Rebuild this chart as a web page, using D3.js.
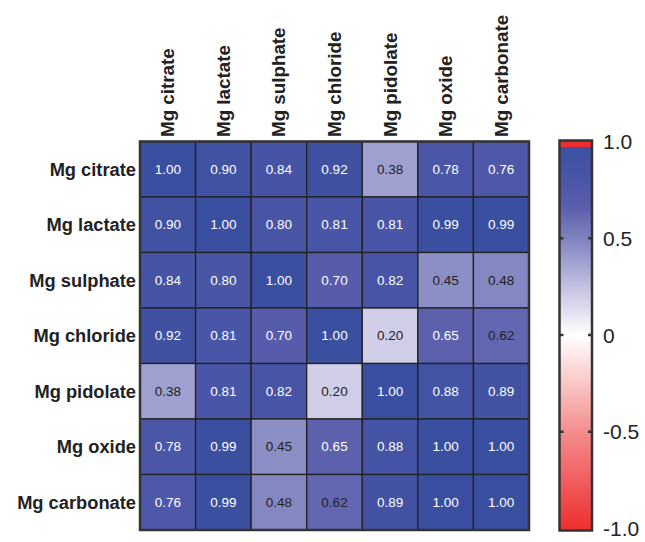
<!DOCTYPE html>
<html>
<head>
<meta charset="utf-8">
<script src="https://cdn.jsdelivr.net/npm/d3@7"></script>
<style>
  html, body { margin: 0; padding: 0; background: #fff; }
  svg { display: block; font-family: "Liberation Sans", Arial, sans-serif; }
</style>
</head>
<body>
<svg id="chart" width="645" height="542"></svg>
<script>
const labels = ["Mg citrate", "Mg lactate", "Mg sulphate", "Mg chloride", "Mg pidolate", "Mg oxide", "Mg carbonate"];
const matrix = [
  [1.00, 0.90, 0.84, 0.92, 0.38, 0.78, 0.76],
  [0.90, 1.00, 0.80, 0.81, 0.81, 0.99, 0.99],
  [0.84, 0.80, 1.00, 0.70, 0.82, 0.45, 0.48],
  [0.92, 0.81, 0.70, 1.00, 0.20, 0.65, 0.62],
  [0.38, 0.81, 0.82, 0.20, 1.00, 0.88, 0.89],
  [0.78, 0.99, 0.45, 0.65, 0.88, 1.00, 1.00],
  [0.76, 0.99, 0.48, 0.62, 0.89, 1.00, 1.00]
];
const colorTicks = [1.0, 0.5, 0, -0.5, -1.0];
const colorTickLabels = ["1.0", "0.5", "0", "-0.5", "-1.0"];

const svg = d3.select("#chart");

const grid = { x0: 140, x1: 529, y0: 141.5, y1: 530 };
const x = d3.scaleBand().domain(labels).range([grid.x0, grid.x1]);
const y = d3.scaleBand().domain(labels).range([grid.y0, grid.y1]);

const color = d3.scaleLinear()
  .domain([-1, -0.5, 0, 0.2, 0.38, 0.47, 0.65, 0.8, 1])
  .range(["#ee2e2e", "#f48b8b", "#ffffff", "#cfcee6", "#9fa0d0", "#8789c3", "#5c60ad", "#4a55a6", "#3a4fa0"])
  .clamp(true);

const cells = [];
matrix.forEach((row, i) => row.forEach((v, j) => cells.push({ r: labels[i], c: labels[j], v })));

const g = svg.append("g");
g.selectAll("rect.cell").data(cells).enter().append("rect")
  .attr("class", "cell")
  .attr("x", d => x(d.c))
  .attr("y", d => y(d.r))
  .attr("width", x.bandwidth())
  .attr("height", y.bandwidth())
  .attr("fill", d => color(d.v))
  .attr("stroke", "#222")
  .attr("stroke-width", 1.3);

g.selectAll("text.val").data(cells).enter().append("text")
  .attr("class", "val")
  .attr("x", d => x(d.c) + x.bandwidth() / 2)
  .attr("y", d => y(d.r) + y.bandwidth() / 2)
  .attr("text-anchor", "middle")
  .attr("dominant-baseline", "central")
  .attr("font-size", 13.5)
  .attr("fill", d => d.v < 0.64 ? "#222" : "#fff")
  .text(d => d.v.toFixed(2));

g.append("rect")
  .attr("x", grid.x0).attr("y", grid.y0)
  .attr("width", grid.x1 - grid.x0).attr("height", grid.y1 - grid.y0)
  .attr("fill", "none").attr("stroke", "#333").attr("stroke-width", 2.5);

// Row labels
svg.selectAll("text.rowlab").data(labels).enter().append("text")
  .attr("class", "rowlab")
  .attr("x", 136)
  .attr("y", d => y(d) + y.bandwidth() / 2)
  .attr("text-anchor", "end")
  .attr("dominant-baseline", "central")
  .attr("font-size", 18.3)
  .attr("font-weight", "bold")
  .attr("fill", "#222")
  .text(d => d);

// Column labels
svg.selectAll("text.collab").data(labels).enter().append("text")
  .attr("class", "collab")
  .attr("transform", d => `translate(${x(d) + x.bandwidth() / 2},137) rotate(-90)`)
  .attr("text-anchor", "start")
  .attr("dominant-baseline", "central")
  .attr("font-size", 18.8)
  .attr("font-weight", "bold")
  .attr("fill", "#222")
  .text(d => d);

// Color bar
const cb = { x0: 559.5, x1: 592, y0: 140.5, y1: 530.5 };
const cy = d3.scaleLinear().domain([-1, 1]).range([528.5, 141.5]);
const defs = svg.append("defs");
const grad = defs.append("linearGradient").attr("id", "cbgrad")
  .attr("x1", 0).attr("y1", 1).attr("x2", 0).attr("y2", 0);
d3.range(-1, 1.0001, 0.05).forEach(v => {
  grad.append("stop").attr("offset", (v + 1) / 2).attr("stop-color", color(v));
});
svg.append("rect")
  .attr("x", cb.x0).attr("y", cb.y0)
  .attr("width", cb.x1 - cb.x0).attr("height", cb.y1 - cb.y0)
  .attr("fill", "url(#cbgrad)");
svg.append("rect")
  .attr("x", cb.x0).attr("y", cb.y0)
  .attr("width", cb.x1 - cb.x0).attr("height", 6.5)
  .attr("fill", "#ee2e2e");
svg.append("rect")
  .attr("x", cb.x0).attr("y", cb.y0)
  .attr("width", cb.x1 - cb.x0).attr("height", cb.y1 - cb.y0)
  .attr("fill", "none").attr("stroke", "#333").attr("stroke-width", 2.5);

colorTicks.forEach((t, i) => {
  if (Math.abs(t) < 1) {
    svg.append("line").attr("x1", cb.x0).attr("x2", cb.x0 + 4)
      .attr("y1", cy(t)).attr("y2", cy(t)).attr("stroke", "#333").attr("stroke-width", 2.5);
    svg.append("line").attr("x1", cb.x1 - 4).attr("x2", cb.x1)
      .attr("y1", cy(t)).attr("y2", cy(t)).attr("stroke", "#333").attr("stroke-width", 2.5);
  }
  svg.append("text")
    .attr("x", 603)
    .attr("y", cy(t))
    .attr("dominant-baseline", "central")
    .attr("font-size", 21)
    .attr("fill", "#222")
    .text(colorTickLabels[i]);
});
</script>
</body>
</html>
